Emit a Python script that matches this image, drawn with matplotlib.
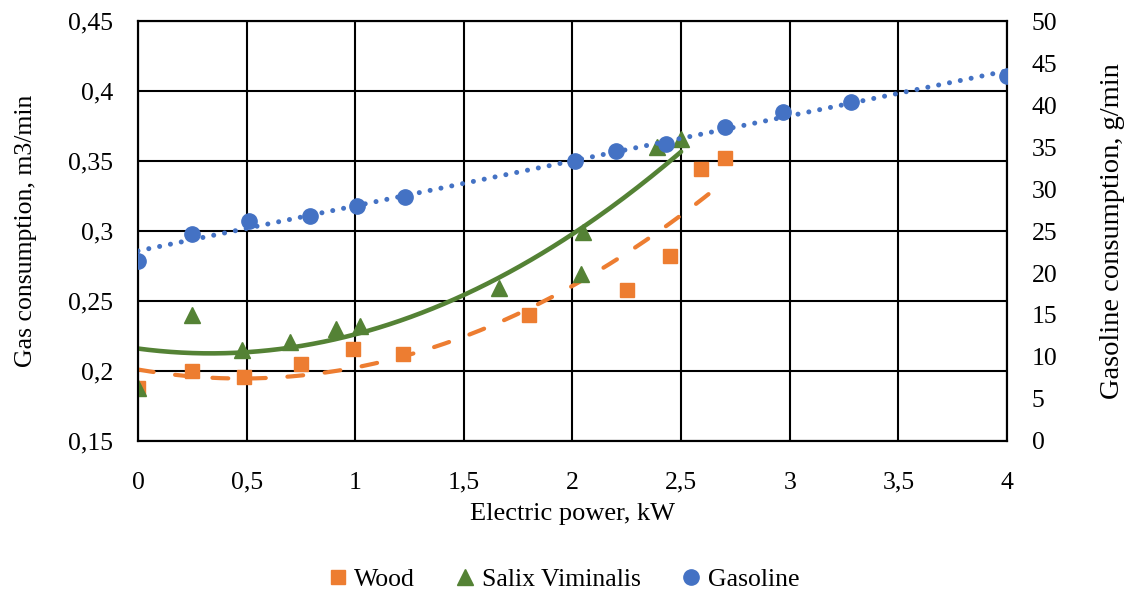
import matplotlib
matplotlib.use("Agg")
import matplotlib.pyplot as plt
from matplotlib.ticker import FuncFormatter, MultipleLocator
import numpy as np

plt.rcParams['font.family'] = ['Liberation Serif', 'DejaVu Serif']

# data
wood_x = [0, 0.25, 0.49, 0.75, 0.99, 1.22, 1.80, 2.25, 2.45, 2.59, 2.70]
wood_y = [0.188, 0.200, 0.196, 0.205, 0.216, 0.212, 0.240, 0.258, 0.282, 0.344, 0.352]

salix_x = [0, 0.25, 0.48, 0.70, 0.91, 1.02, 1.66, 2.05, 2.04, 2.39, 2.50]
salix_y = [0.188, 0.240, 0.215, 0.221, 0.230, 0.232, 0.259, 0.299, 0.269, 0.360, 0.366]

gas_x = [0, 0.25, 0.51, 0.79, 1.01, 1.23, 2.01, 2.20, 2.43, 2.70, 2.97, 3.28, 4.0]
gas_y = [21.4, 24.6, 26.2, 26.8, 28.0, 29.0, 33.3, 34.5, 35.3, 37.4, 39.2, 40.4, 43.4]

ORANGE = '#ED7D31'
GREEN = '#548235'
BLUE = '#4472C4'

fig = plt.figure(figsize=(11.28, 5.94), dpi=100)
ax = fig.add_axes([0.1223, 0.2576, 0.7704, 0.707])
ax2 = ax.twinx()

# trend lines (polynomial fits, like the spreadsheet trendlines)
xw = np.linspace(min(wood_x), max(wood_x), 200)
pw = np.polyfit(wood_x, wood_y, 2)
ax.plot(xw, np.polyval(pw, xw), color=ORANGE, lw=3, ls=(0, (3.8, 5.2)), dash_capstyle='round', zorder=3)

xs = np.linspace(min(salix_x), max(salix_x), 200)
ps = np.polyfit(salix_x, salix_y, 2)
ax.plot(xs, np.polyval(ps, xs), color=GREEN, lw=3.3, solid_capstyle='round', zorder=3)

xg = np.linspace(min(gas_x), max(gas_x), 200)
pg = np.polyfit(gas_x, gas_y, 1)
ax2.plot(xg, np.polyval(pg, xg), color=BLUE, lw=3.6, ls=(0, (0.01, 2.2)), dash_capstyle='round', zorder=3)

# markers
h1, = ax.plot(wood_x, wood_y, 's', color=ORANGE, ms=10.5, ls='none', label='Wood', zorder=4)
h2, = ax.plot(salix_x, salix_y, '^', color=GREEN, ms=11.5, ls='none', label='Salix Viminalis', zorder=5)
h3, = ax2.plot(gas_x, gas_y, 'o', color=BLUE, ms=11, ls='none', label='Gasoline', zorder=4)

ax.set_xlim(0, 4)
ax.set_ylim(0.15, 0.45)
ax2.set_ylim(0, 50)
ax.xaxis.set_major_locator(MultipleLocator(0.5))
ax.yaxis.set_major_locator(MultipleLocator(0.05))
ax2.yaxis.set_major_locator(MultipleLocator(5))

comma = FuncFormatter(lambda v, p: ('%g' % round(v, 4)).replace('.', ','))
ax.xaxis.set_major_formatter(comma)
ax.yaxis.set_major_formatter(comma)
ax2.yaxis.set_major_formatter(FuncFormatter(lambda v, p: '%d' % v))

ax.grid(True, color='black', lw=1.5)
ax.set_axisbelow(True)
for a in (ax, ax2):
    a.tick_params(length=0, labelsize=18.5, pad=18)
    for s in a.spines.values():
        s.set_color('black')
        s.set_linewidth(1.5)
ax.tick_params(axis='x', pad=22)

ax.set_xlabel('Electric power, kW', fontsize=19)
ax.set_ylabel('Gas consumption, m3/min', fontsize=18.5)
ax2.set_ylabel('Gasoline consumption, g/min', fontsize=20.5)
ax.xaxis.set_label_coords(0.5, -0.148)
ax.yaxis.set_label_coords(-0.116, 0.5)
ax2.yaxis.set_label_coords(1.107, 0.5)

fig.legend(handles=[h1, h2, h3], loc='center', bbox_to_anchor=(0.5, 0.024),
           ncol=3, frameon=False, fontsize=18.5, handlelength=0.7, handletextpad=0.3,
           columnspacing=1.6, markerscale=1.0)

fig.savefig('out.png', dpi=100)
